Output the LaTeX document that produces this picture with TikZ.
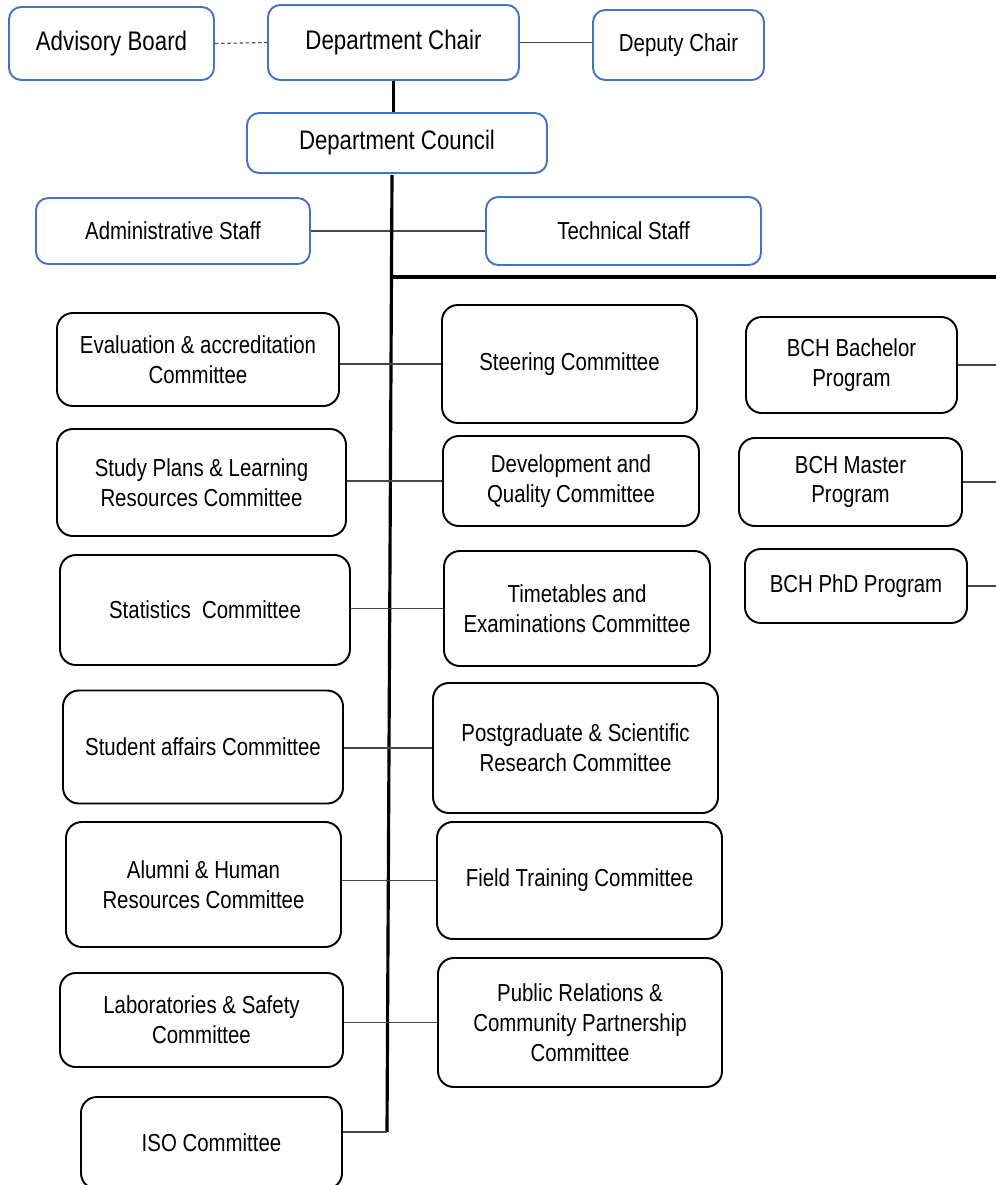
\documentclass[tikz,border=0pt]{standalone}
\usepackage{fontspec}
\setmainfont{Liberation Sans}[FakeStretch=0.83]
\definecolor{headblue}{RGB}{68,114,196}
\definecolor{linkgray}{RGB}{70,70,70}
\tikzset{
  head box/.style={draw=headblue,line width=1.1pt,rounded corners=7pt,align=center,
    font=\fontsize{15.3}{18}\selectfont},
  staff box/.style={head box,font=\fontsize{14}{17}\selectfont},
  com box/.style={draw=black,line width=1.1pt,rounded corners=9pt,align=center,
    font=\fontsize{14}{17}\selectfont},
  link/.style={draw=linkgray,line width=0.6pt},
  spine/.style={draw=black,line width=1.8pt}
}

\begin{document}
\begin{tikzpicture}
  \useasboundingbox (0,0) rectangle (19.92,-23.70);

  % top of the chart
  \node[head box,minimum width=4.10cm,minimum height=1.46cm] (advisory) at (2.23,-0.87) {Advisory Board};
  \node[head box,minimum width=5.02cm,minimum height=1.50cm] (chair) at (7.87,-0.85) {Department Chair};
  \node[head box,minimum width=3.42cm,minimum height=1.40cm,font=\fontsize{14}{17}\selectfont] (deputy) at (13.57,-0.90) {Deputy Chair};
  \node[head box,minimum width=6.00cm,minimum height=1.20cm,font=\fontsize{15.2}{18}\selectfont] (council) at (7.94,-2.86) {Department Council};

  \draw[link,dash pattern=on 2pt off 1.5pt] (advisory.east) -- (chair.west);
  \draw[link] (chair.east) -- (chair.east -| deputy.west);
  \draw[spine] (chair.south) -- (chair.south |- council.north);

  % staff
  \node[staff box,minimum width=5.48cm,minimum height=1.32cm] (admin) at (3.46,-4.62) {Administrative Staff};
  \node[staff box,minimum width=5.50cm,minimum height=1.36cm] (tech) at (12.47,-4.62) {Technical Staff};
  \draw[link] (admin.east) -- (tech.west);

  % main line and branch to the programs
  \coordinate (spinetop) at (7.84,-3.50);
  \coordinate (spinebot) at (7.74,-22.64);
  \coordinate (rim) at (19.92,-5.54);
  \draw[spine] (spinetop) -- (spinebot);
  \draw[spine,line width=2pt] (spinetop |- rim) -- (rim);

  % committees, left column
  \node[com box,minimum width=5.64cm,minimum height=1.86cm] (eval) at (3.96,-7.19) {Evaluation \& accreditation\\Committee};
  \node[com box,minimum width=5.78cm,minimum height=2.14cm] (study) at (4.03,-9.65) {Study Plans \& Learning\\Resources Committee};
  \node[com box,minimum width=5.80cm,minimum height=2.20cm] (stats) at (4.10,-12.20) {Statistics~ Committee};
  \node[com box,minimum width=5.60cm,minimum height=2.26cm] (student) at (4.06,-14.94) {Student affairs Committee};
  \node[com box,minimum width=5.50cm,minimum height=2.50cm] (alumni) at (4.07,-17.69) {Alumni \& Human\\Resources Committee};
  \node[com box,minimum width=5.66cm,minimum height=1.88cm] (labs) at (4.03,-20.40) {Laboratories \& Safety\\Committee};
  \node[com box,minimum width=5.22cm,minimum height=1.84cm] (iso) at (4.23,-22.86) {ISO Committee};

  % committees, right column
  \node[com box,minimum width=5.10cm,minimum height=2.36cm] (steering) at (11.39,-7.28) {Steering Committee};
  \node[com box,minimum width=5.12cm,minimum height=1.80cm] (devq) at (11.42,-9.62) {Development and\\Quality Committee};
  \node[com box,minimum width=5.32cm,minimum height=2.30cm] (timet) at (11.54,-12.17) {Timetables and\\Examinations Committee};
  \node[com box,minimum width=5.70cm,minimum height=2.60cm] (postg) at (11.51,-14.96) {Postgraduate \& Scientific\\Research Committee};
  \node[com box,minimum width=5.70cm,minimum height=2.34cm] (field) at (11.59,-17.61) {Field Training Committee};
  \node[com box,minimum width=5.68cm,minimum height=2.58cm] (pubrel) at (11.60,-20.45) {Public Relations \&\\Community Partnership\\Committee};

  \draw[link] (eval.east |- steering.west) -- (steering.west);
  \draw[link] (study.east |- devq.west) -- (devq.west);
  \draw[link] (stats.east |- timet.west) -- (timet.west);
  \draw[link] (student.east |- postg.west) -- (postg.west);
  \draw[link] (alumni.east |- field.west) -- (field.west);
  \draw[link] (labs.east |- pubrel.west) -- (pubrel.west);
  \draw[link] (iso.east |- spinebot) -- (spinebot);

  % programs
  \node[com box,minimum width=4.22cm,minimum height=1.92cm] (bach) at (17.03,-7.30) {BCH Bachelor\\Program};
  \node[com box,minimum width=4.46cm,minimum height=1.76cm] (master) at (17.01,-9.64) {BCH Master\\Program};
  \node[com box,minimum width=4.44cm,minimum height=1.48cm] (phd) at (17.12,-11.72) {BCH PhD Program};

  \draw[link] (bach.east) -- (bach.east -| rim);
  \draw[link] (master.east) -- (master.east -| rim);
  \draw[link] (phd.east) -- (phd.east -| rim);
\end{tikzpicture}
\end{document}
